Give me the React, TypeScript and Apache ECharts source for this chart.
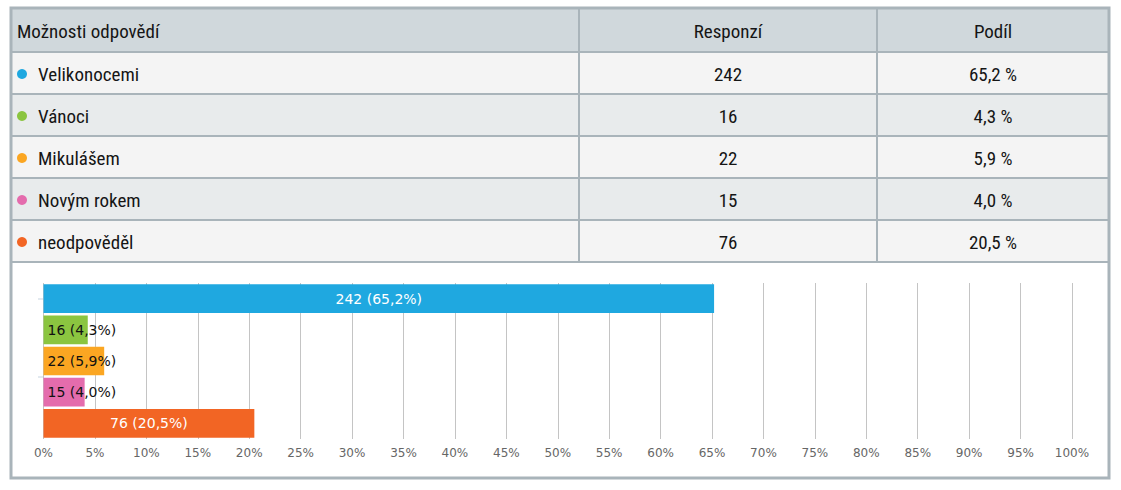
import React, { useEffect, useRef } from "react";
import * as echarts from "echarts";

const headers = ["Možnosti odpovědí", "Responzí", "Podíl"];
const categories = ["Velikonocemi", "Vánoci", "Mikulášem", "Novým rokem", "neodpověděl"];
const responses = [242, 16, 22, 15, 76];
const shares = [65.2, 4.3, 5.9, 4.0, 20.5];
const colors = ["#1fa8e0", "#8bc540", "#fba622", "#e46cad", "#f26524"];
const insideWhite = [true, false, false, false, true];

const fmt = (v: number) => v.toFixed(1).replace(".", ",");

const TABLE_FONT = "'Liberation Sans Narrow', 'Ubuntu Condensed', 'Roboto Condensed', 'Open Sans', sans-serif";
const CHART_FONT = "'DejaVu Sans', Verdana, sans-serif";

export default function App() {
  const ref = useRef<HTMLDivElement>(null);
  useEffect(() => {
    if (!ref.current) return;
    const chart = echarts.init(ref.current, undefined, { renderer: "svg" });

    const border = "#a9b4ba";
    const left = 11;
    const right = 1109;
    const col1 = 579;
    const col2 = 877;
    const headTop = 9;
    const headBottom = 52;
    const rowH = 42;
    const tableBottom = headBottom + rowH * categories.length;
    const tf = `19px ${TABLE_FONT}`;
    const tc = "#151515";

    const g: any[] = [];
    g.push({ type: "rect", shape: { x: left, y: headTop, width: right - left, height: headBottom - headTop }, style: { fill: "#d0d8dc" }, z: -5 });
    categories.forEach((_, i) => {
      g.push({
        type: "rect",
        shape: { x: left, y: headBottom + rowH * i, width: right - left, height: rowH },
        style: { fill: i % 2 === 0 ? "#f4f4f4" : "#e8ebec" },
        z: -5,
      });
    });
    for (let i = 0; i <= categories.length; i++) {
      const y = headBottom + rowH * i;
      g.push({ type: "line", shape: { x1: left, y1: y, x2: right, y2: y }, style: { stroke: border, lineWidth: 2 }, z: -4 });
    }
    [col1, col2].forEach((x) => {
      g.push({ type: "line", shape: { x1: x, y1: headTop, x2: x, y2: tableBottom }, style: { stroke: border, lineWidth: 2 }, z: -4 });
    });
    g.push({ type: "rect", shape: { x: left, y: 8, width: right - left, height: 470 }, style: { fill: "none", stroke: border, lineWidth: 3 }, z: -3 });

    const headerY = (headTop + headBottom) / 2 + 1;
    g.push({ type: "text", x: 17, y: headerY, style: { text: headers[0], fill: tc, font: tf, textVerticalAlign: "middle", textAlign: "left" } });
    g.push({ type: "text", x: (col1 + col2) / 2, y: headerY, style: { text: headers[1], fill: tc, font: tf, textVerticalAlign: "middle", textAlign: "center" } });
    g.push({ type: "text", x: (col2 + right) / 2, y: headerY, style: { text: headers[2], fill: tc, font: tf, textVerticalAlign: "middle", textAlign: "center" } });

    categories.forEach((c, i) => {
      const cy = headBottom + rowH * i + rowH / 2 + 1;
      g.push({ type: "circle", shape: { cx: 22, cy, r: 5 }, style: { fill: colors[i] } });
      g.push({ type: "text", x: 38, y: cy, style: { text: c, fill: tc, font: tf, textVerticalAlign: "middle", textAlign: "left" } });
      g.push({ type: "text", x: (col1 + col2) / 2, y: cy, style: { text: String(responses[i]), fill: tc, font: tf, textVerticalAlign: "middle", textAlign: "center" } });
      g.push({ type: "text", x: (col2 + right) / 2, y: cy, style: { text: `${fmt(shares[i])} %`, fill: tc, font: tf, textVerticalAlign: "middle", textAlign: "center" } });
    });

    [299, 377].forEach((y) => {
      g.push({ type: "line", shape: { x1: 38, y1: y, x2: 43, y2: y }, style: { stroke: "#c5d3e0", lineWidth: 1 } });
    });

    chart.setOption({
      animation: false,
      grid: { left: 43.5, right: 49, top: 283, bottom: 51, containLabel: false },
      xAxis: {
        type: "value",
        min: 0,
        max: 100,
        interval: 5,
        axisLine: { show: false },
        axisTick: { show: false },
        splitLine: { show: true, lineStyle: { color: "#c4c4c4", width: 1 } },
        axisLabel: { formatter: "{value}%", color: "#666", fontSize: 12, fontFamily: CHART_FONT, margin: 8 },
      },
      yAxis: {
        type: "category",
        data: categories,
        inverse: true,
        axisLine: { show: false },
        axisTick: { show: false },
        axisLabel: { show: false },
        splitLine: { show: false },
      },
      series: [
        {
          type: "bar",
          barCategoryGap: "8%",
          data: shares.map((v, i) => ({
            value: v,
            itemStyle: { color: colors[i] },
            label: {
              show: true,
              position: insideWhite[i] ? "inside" : "insideLeft",
              distance: 4,
              color: insideWhite[i] ? "#fff" : "#111",
              fontSize: 14,
              fontFamily: CHART_FONT,
              formatter: `${responses[i]} (${fmt(v)}%)`,
            },
          })),
        },
      ],
      graphic: g,
    });
    return () => chart.dispose();
  }, []);
  return <div ref={ref} style={{ position: "absolute", left: 0, top: 0, width: 1121, height: 490 }} />;
}
